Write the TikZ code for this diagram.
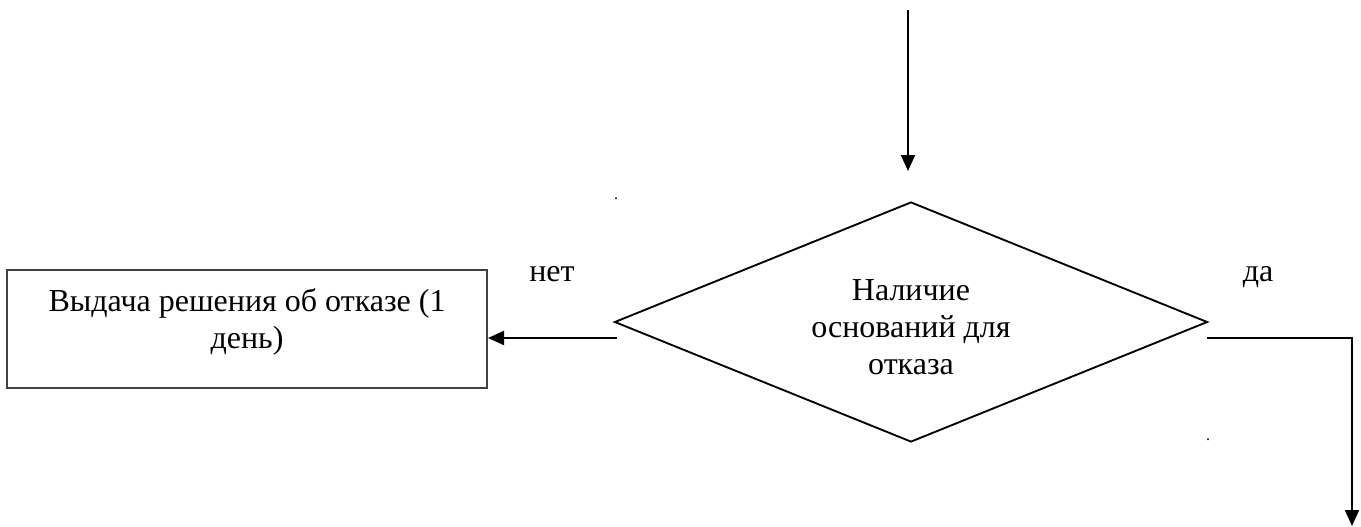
\documentclass[tikz,border=0pt]{standalone}
\usepackage{fontspec}
\setmainfont{Liberation Serif}
\usetikzlibrary{shapes.geometric,arrows.meta}
\begin{document}
\begin{tikzpicture}[x=0.75pt,y=-0.75pt,
  line/.style={draw=black,line width=1.5pt},
  arr/.style={line,-{Triangle[width=10.5pt,length=12pt]}},
  txt/.style={font=\fontsize{24}{27.75}\selectfont,align=center,inner sep=0pt},
  decision/.style={diamond,line,line width=1.4pt,minimum width=593*0.75pt,minimum height=240*0.75pt,inner sep=0pt},
  procbox/.style={rectangle,draw=black!75,line width=1.5pt,minimum width=480*0.75pt,minimum height=118*0.75pt,inner sep=0pt}]
\useasboundingbox (0,0) rectangle (1361,526);

% decision and the refusal box
\node[decision] (d) at (911,322) {};
\node[txt] (dtext) at (911,327) {Наличие\\оснований для\\отказа};
\node[procbox] (box) at (247,329) {};
\node[txt] (btext) at (247,322) {Выдача решения об отказе (1\\день)};

% branch labels and stray dots
\node[txt,anchor=base] (no) at (552,281) {нет};
\node[txt,anchor=base] (yes) at (1258,281) {да};
\node[txt,font=\fontsize{12}{14}\selectfont] (dot1) at (616,199) {.};
\node[txt,font=\fontsize{12}{14}\selectfont] (dot2) at (1208,440) {.};

% connectors
\coordinate (in) at (908,10);
\coordinate (intip) at (908,171);
\draw[arr] (in) -- (intip);

\coordinate (nostart) at (617,338);
\draw[arr] (nostart) -- (nostart -| box.east);

\coordinate (yesstart) at (1207,338);
\coordinate (yesend) at (1352,526);
\draw[arr] (yesstart) -| (yesend);
\end{tikzpicture}
\end{document}
